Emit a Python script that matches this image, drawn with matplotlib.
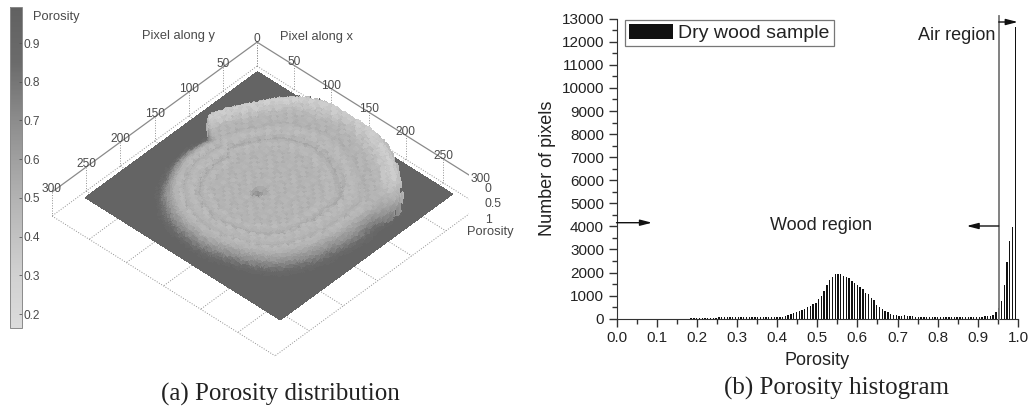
# -*- coding: utf-8 -*-
"""Porosity distribution surface and porosity histogram of a dry wood sample."""

import matplotlib
matplotlib.use('Agg')
import matplotlib.pyplot as plt
import numpy as np
from matplotlib.colors import LinearSegmentedColormap, Normalize
from matplotlib.cm import ScalarMappable
from matplotlib.ticker import MultipleLocator
from mpl_toolkits.mplot3d import proj3d

plt.rcParams['font.family'] = ['Liberation Sans', 'DejaVu Sans']

W, H = 1032, 409

#--- data: histogram (counts per bin) ---
bin_last = 0.9933
bin_step = 0.0069
counts = [5, 8, 8, 10, 10, 12, 12, 15, 15, 18, 20, 20, 30,
          55, 60, 60, 65, 70, 60, 80, 60, 65, 60, 60, 65, 60, 55, 60, 55, 60, 55, 60, 60, 60, 60,
          80, 90, 120, 150, 190, 240, 280, 340, 390, 430, 490, 570, 620, 700, 840, 1000, 1190,
          1450, 1680, 1810, 1930, 1950, 1920, 1870, 1800, 1750, 1650, 1530, 1480, 1370, 1300,
          1130, 1050, 880, 800, 590, 490, 430, 340, 290, 200, 170, 150, 100, 120, 140, 110, 100,
          110, 90, 70, 90, 70, 80, 70, 60, 70, 60, 65, 60, 60, 60, 60, 60, 60, 60, 60, 60, 60,
          65, 60, 80, 70, 80, 100, 110, 130, 180, 280, 450, 760, 1470, 2450, 3370, 3970, 12650]
y_ticks = [0, 1000, 2000, 3000, 4000, 5000, 6000, 7000, 8000, 9000, 10000, 11000, 12000, 13000]
x_ticks = [0.0, 0.1, 0.2, 0.3, 0.4, 0.5, 0.6, 0.7, 0.8, 0.9, 1.0]
air_boundary = 0.952

#--- data: porosity surface ---
sample_x = (7, 270)        # extent of the scanned plane, pixel along x
sample_y = (7, 260)        # extent of the scanned plane, pixel along y
air_porosity = 0.95
disc_centre = (136, 149)
outline_angle = [-180, -160, -156, -134, -114, -92, -67, -38, -24, 1, 36, 63, 98, 139, 155, 171, 180]
outline_radius = [90, 91, 108, 116, 131, 136, 131, 128, 113, 100, 95, 85, 83, 87, 87, 89, 90]
ring_width = 0.03
ring_porosity = [0.72, 0.64, 0.56, 0.50, 0.50, 0.49, 0.50, 0.50, 0.49, 0.50, 0.49, 0.50, 0.50,
                 0.49, 0.50, 0.50, 0.50, 0.49, 0.47, 0.47, 0.51, 0.55, 0.51, 0.47, 0.46, 0.47,
                 0.49, 0.53, 0.50, 0.47, 0.49, 0.54, 0.60, 0.66, 0.73, 0.80, 0.86, 0.91]
rim_start = 26             # ring index where the rim values take over
rim_porosity = [0.50, 0.52, 0.50, 0.50, 0.49, 0.47, 0.44, 0.40, 0.36, 0.34, 0.42]
rim_angle = [-162, -156, -48, -26]   # the outer edge stands up sharply in this sector
rim_weight = [0, 1, 1, 0]
bead_texture = [[0.00, 0.02, -0.02, 0.01, 0.03, -0.01, 0.00],
                [-0.02, 0.01, 0.03, -0.03, 0.00, 0.02, -0.01],
                [0.03, -0.01, 0.00, 0.02, -0.03, 0.01, 0.02],
                [-0.01, 0.03, -0.02, 0.00, 0.02, -0.02, 0.03],
                [0.02, -0.03, 0.01, 0.03, -0.01, 0.00, -0.02],
                [0.00, 0.02, -0.01, -0.02, 0.03, 0.01, 0.00],
                [-0.03, 0.00, 0.02, 0.01, -0.02, 0.03, -0.01]]
cbar_ticks = [0.2, 0.3, 0.4, 0.5, 0.6, 0.7, 0.8, 0.9]
pixel_ticks = [0, 50, 100, 150, 200, 250, 300]
gray_at = [0.164, 0.3, 0.5, 0.7, 0.85, 0.993]
gray_val = [0.86, 0.82, 0.70, 0.55, 0.42, 0.38]

txt_gray = '#4a4a4a'


def fig_box(left, top, right, bottom):
    return [left / W, 1 - bottom / H, (right - left) / W, (bottom - top) / H]


fig = plt.figure(figsize=(W / 100, H / 100), dpi=100)

#--------------------------------------------
#---  left: surface                       ---
cmap = LinearSegmentedColormap.from_list(
    'porosity', [((a - gray_at[0]) / (gray_at[-1] - gray_at[0]), str(g)) for a, g in zip(gray_at, gray_val)])
norm = Normalize(gray_at[0], gray_at[-1])

# the axes are built from the geometry of the drawn box
side = 417.0
left3d, top3d = 51.9, 413.1 - side
ax3 = fig.add_axes(fig_box(left3d, top3d, left3d + side, top3d + side), projection='3d', proj_type='ortho')
ax3.set_box_aspect((301.8, 304, 32.6))
ax3.view_init(elev=42.6, azim=42.8)
ax3.set_xlim(0, 300)   # pixel along y
ax3.set_ylim(0, 300)   # pixel along x
ax3.set_zlim(1, 0)     # porosity
ax3.set_axis_off()
ax3.patch.set_alpha(0)
ax3.computed_zorder = False

along_y = np.arange(sample_y[0], sample_y[1] + 0.1, 1.5)
along_x = np.arange(sample_x[0], sample_x[1] + 0.1, 1.5)
gy, gx = np.meshgrid(along_y, along_x, indexing='ij')
dx, dy = gx - disc_centre[0], gy - disc_centre[1]
angle = np.degrees(np.arctan2(dy, dx))
texture = np.array(bead_texture)
ii, jj = np.indices(gx.shape)
beads = texture[(ii // 3) % 7, (jj // 3) % 7]
edge = np.interp(angle, outline_angle, outline_radius) + 60 * beads
band = (np.hypot(dx, dy) / edge / ring_width).astype(int)

rings = np.array(ring_porosity + [air_porosity])
rim_rings = np.array(ring_porosity[:rim_start] + rim_porosity + [air_porosity])
front = rings[np.minimum(band, len(rings) - 1)]
back = rim_rings[np.minimum(band, len(rim_rings) - 1)]
weight = np.interp(angle, rim_angle, rim_weight)
porosity = weight * back + (1 - weight) * front
porosity = np.where(porosity < 0.9, porosity + beads, porosity)

ax3.plot_surface(gy, gx, porosity, facecolors=cmap(norm(porosity)), rstride=1, cstride=1,
                 shade=False, antialiased=False, linewidth=0, zorder=2)

#---  dotted box and grid  ---
dot = dict(color='#909090', lw=0.7, ls=':', zorder=1)
for t in pixel_ticks:
    ax3.plot([t, t], [0, 300], [1, 1], **dot)
    ax3.plot([0, 300], [t, t], [1, 1], **dot)
    ax3.plot([t, t], [0, 0], [0, 1], **dot)
    ax3.plot([0, 0], [t, t], [0, 1], **dot)

#---  solid axis lines  ---
solid = dict(color='#8a8a8a', lw=0.9, zorder=3)
ax3.plot([0, 300], [0, 0], [0, 0], **solid)
ax3.plot([0, 0], [0, 300], [0, 0], **solid)
ax3.plot([0, 0], [300, 300], [0, 1], **solid)


def tick3d(x, y, s):
    sx, sy, _ = proj3d.proj_transform(x, y, 0, ax3.get_proj())
    ax3.annotate(s, xy=(sx, sy), xytext=(0, -2.2), textcoords='offset points', ha='center', va='bottom',
                 fontsize=8.6, color=txt_gray, zorder=4, annotation_clip=False)


for t in pixel_ticks:
    tick3d(t, 0, str(t))
    if t > 0:
        tick3d(0, t, str(t))


def label3d(x, y, s, size=9.3, ha='center'):
    fig.text(x / W, 1 - y / H, s, ha=ha, va='center', fontsize=size, color=txt_gray)


label3d(178, 36, 'Pixel along y')
label3d(317, 37, 'Pixel along x')
label3d(490, 232, 'Porosity')
label3d(488, 189, '0', 8.8)
label3d(493, 204, '0.5', 8.8)
label3d(488, 220, '1', 8.8)

#---  colour bar  ---
cax = fig.add_axes(fig_box(10, 7, 21.5, 328))
cb = fig.colorbar(ScalarMappable(norm=norm, cmap=cmap), cax=cax)
cb.set_ticks(cbar_ticks)
cb.ax.yaxis.set_ticks_position('right')
cb.ax.tick_params(direction='in', length=2.5, width=0.6, color='#555555', labelsize=8.6,
                  labelcolor=txt_gray, pad=1.5)
cb.outline.set_edgecolor('#8a8a8a')
cb.outline.set_linewidth(0.7)
label3d(33, 17, 'Porosity', ha='left')

fig.text(280.5 / W, 1 - 401 / H, '(a) Porosity distribution', family='Liberation Serif',
         fontsize=18, ha='center', va='baseline', color='#222222')

#--------------------------------------------
#---  right: histogram                    ---
ax = fig.add_axes(fig_box(616.5, 18.7, 1018, 318.7))
n = len(counts)
centres = bin_last - bin_step * np.arange(n - 1, -1, -1)
ax.bar(centres, counts, width=0.0034, color='#111111', label='Dry wood sample')

ax.set_xlim(0, 1)
ax.set_ylim(0, 13000)
ax.set_xticks(x_ticks)
ax.set_yticks(y_ticks)
ax.xaxis.set_minor_locator(MultipleLocator(0.05))
ax.yaxis.set_minor_locator(MultipleLocator(500))
ax.spines['top'].set_visible(False)
ax.spines['right'].set_visible(False)
for s in ('left', 'bottom'):
    ax.spines[s].set_color('#333333')
ax.tick_params(which='major', length=6, width=1, color='#333333', labelsize=11, labelcolor='#222222', pad=3)
ax.tick_params(which='minor', length=3.5, width=1, color='#333333')
ax.set_xlabel('Porosity', fontsize=13, color='#222222', labelpad=5)
ax.set_ylabel('Number of pixels', fontsize=13, color='#222222', labelpad=4)

ax.plot([air_boundary, air_boundary], [0, 13130], color='#777777', lw=1.3, clip_on=False, zorder=3)

arrow = dict(arrowstyle='-|>,head_length=0.7,head_width=0.18', color='#111111', lw=1, shrinkA=0, shrinkB=0)
ax.annotate('', xy=(0.0885, 4160), xytext=(0, 4160), arrowprops=arrow)
ax.annotate('', xy=(0.872, 4017), xytext=(air_boundary, 4017), arrowprops=arrow)
ax.annotate('', xy=(0.9995, 12857), xytext=(air_boundary, 12857), arrowprops=arrow)
ax.text(0.51, 4030, 'Wood region', fontsize=13, ha='center', va='center', color='#222222')
ax.text(0.9435, 12280, 'Air region', fontsize=13, ha='right', va='center', color='#222222')

leg = ax.legend(loc='upper left', bbox_to_anchor=(8.5 / 401.5, 1 - 1.3 / 300), fontsize=14, frameon=True,
                fancybox=False, edgecolor='#777777', framealpha=1, borderpad=0.2, borderaxespad=0,
                handlelength=2.25, handleheight=0.8, handletextpad=0.3, labelcolor='#222222')
leg.get_frame().set_linewidth(0.9)

fig.text(836.7 / W, 1 - 395 / H, '(b) Porosity histogram', family='Liberation Serif',
         fontsize=18, ha='center', va='baseline', color='#222222')

plt.savefig('out.png', dpi=100)
